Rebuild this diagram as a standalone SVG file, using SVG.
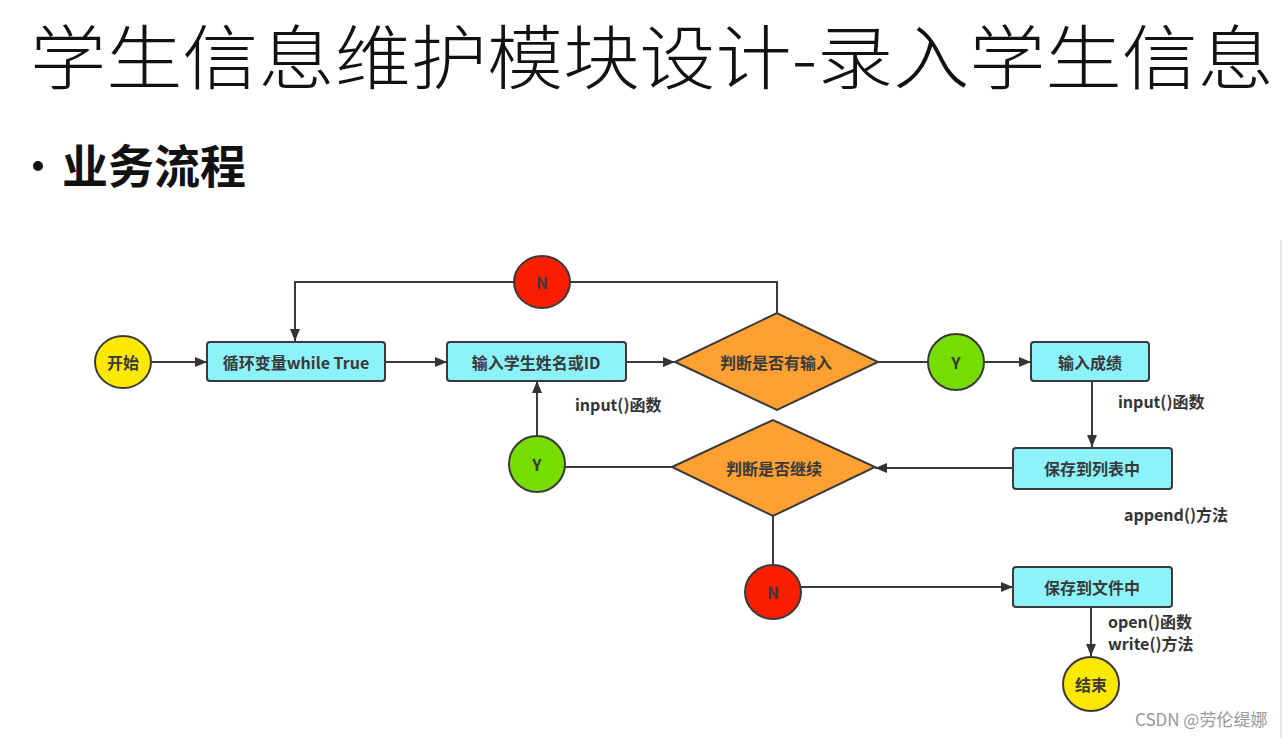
<svg xmlns="http://www.w3.org/2000/svg" width="1286" height="738" viewBox="0 0 1286 738">
<defs>
<marker id="arr" viewBox="0 0 12 10" refX="12" refY="5" markerWidth="12" markerHeight="10" markerUnits="userSpaceOnUse" orient="auto">
<path d="M0,0 L12,5 L0,10 z" fill="#333"/>
</marker>
<style>
.cjk{font-family:"Noto Sans CJK SC","Liberation Sans",sans-serif}
.box{fill:#8cf3fb;stroke:#3a3a3a;stroke-width:2}
.dia{fill:#ffa032;stroke:#3a3a3a;stroke-width:2}
.yel{fill:#fde900;stroke:#3a3a3a;stroke-width:2}
.grn{fill:#77dd00;stroke:#3a3a3a;stroke-width:2}
.red{fill:#fa1e00;stroke:#3a3a3a;stroke-width:2}
.lbl{font-family:"Noto Sans CJK SC","Open Sans",sans-serif;font-size:16px;font-weight:bold;fill:#3a3a3a;text-anchor:middle;dominant-baseline:central}
.note{font-family:"Noto Sans CJK SC","Open Sans",sans-serif;font-size:16px;font-weight:bold;fill:#333}
.con{fill:none;stroke:#3a3a3a;stroke-width:2}
</style>
</defs>
<rect width="1286" height="738" fill="#fff"/>
<line x1="1281" y1="240" x2="1281" y2="738" stroke="#e6e6e6" stroke-width="2"/>
<text x="30" y="84" class="cjk" font-size="70" font-weight="300" fill="#111" textLength="1244" lengthAdjust="spacingAndGlyphs">学生信息维护模块设计-录入学生信息</text>
<circle cx="38" cy="166" r="5" fill="#111"/>
<text x="62" y="183" class="cjk" font-size="46" font-weight="bold" fill="#111">业务流程</text>

<g id="connectors">
<path class="con" d="M152,362 H207" marker-end="url(#arr)"/>
<path class="con" d="M385,362 H447" marker-end="url(#arr)"/>
<path class="con" d="M626,362 H675" marker-end="url(#arr)"/>
<path class="con" d="M878,362 H928"/>
<path class="con" d="M984,362 H1031" marker-end="url(#arr)"/>
<path class="con" d="M1092,381 V447" marker-end="url(#arr)"/>
<path class="con" d="M1013,468 H875" marker-end="url(#arr)"/>
<path class="con" d="M672,467 H565"/>
<path class="con" d="M537,436 V381" marker-end="url(#arr)"/>
<path class="con" d="M777,313 V282 H570"/>
<path class="con" d="M514,282 H295 V341" marker-end="url(#arr)"/>
<path class="con" d="M773,516 V564"/>
<path class="con" d="M801,587 H1013" marker-end="url(#arr)"/>
<path class="con" d="M1091,607 V656" marker-end="url(#arr)"/>
</g>

<g id="start"><ellipse class="yel" cx="123" cy="362" rx="28" ry="26"/><text class="lbl" x="123" y="362">开始</text></g>
<g id="loop"><rect class="box" x="207" y="342" width="178" height="39" rx="3"/><text class="lbl" x="296" y="362">循环变量while True</text></g>
<g id="inputName"><rect class="box" x="447" y="342" width="179" height="39" rx="3"/><text class="lbl" x="536" y="362">输入学生姓名或ID</text></g>
<g id="judgeInput"><path class="dia" d="M675,362 L777,313 L878,362 L777,410 z"/><text class="lbl" x="776" y="362">判断是否有输入</text></g>
<g id="y1"><circle class="grn" cx="956" cy="362" r="28"/><text class="lbl" x="956" y="362">Y</text></g>
<g id="inputScore"><rect class="box" x="1031" y="342" width="118" height="39" rx="3"/><text class="lbl" x="1090" y="362">输入成绩</text></g>
<g id="saveList"><rect class="box" x="1013" y="448" width="159" height="41" rx="3"/><text class="lbl" x="1092" y="468">保存到列表中</text></g>
<g id="judgeContinue"><path class="dia" d="M672,467 L773,420 L875,467 L773,516 z"/><text class="lbl" x="774" y="468">判断是否继续</text></g>
<g id="y2"><circle class="grn" cx="537" cy="464" r="28"/><text class="lbl" x="537" y="464">Y</text></g>
<g id="n1"><ellipse class="red" cx="542" cy="282" rx="28" ry="26"/><text class="lbl" x="542" y="282">N</text></g>
<g id="n2"><ellipse class="red" cx="773" cy="592" rx="28" ry="27"/><text class="lbl" x="773" y="592">N</text></g>
<g id="saveFile"><rect class="box" x="1013" y="567" width="159" height="40" rx="3"/><text class="lbl" x="1092" y="587">保存到文件中</text></g>
<g id="end"><ellipse class="yel" cx="1091" cy="684" rx="28" ry="27"/><text class="lbl" x="1091" y="684">结束</text></g>

<g id="notes">
<text class="note" x="575" y="411">input()函数</text>
<text class="note" x="1118" y="408">input()函数</text>
<text class="note" x="1124" y="521">append()方法</text>
<text class="note" x="1108" y="628">open()函数</text>
<text class="note" x="1108" y="650">write()方法</text>
</g>
<text x="1135" y="726" class="cjk" font-size="17" fill="#999">CSDN @劳伦缇娜</text>
</svg>
